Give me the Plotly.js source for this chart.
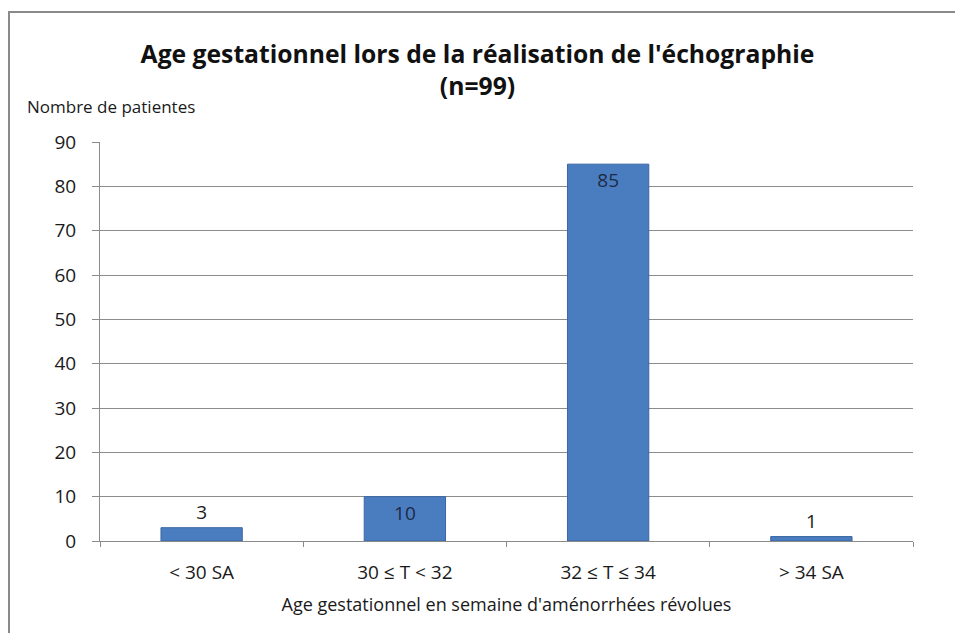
<!DOCTYPE html>
<html>
<head>
<meta charset="utf-8">
<script src="https://cdn.plot.ly/plotly-3.0.1.min.js"></script>
<style>
html,body{margin:0;padding:0;background:#fff;}
#frame{position:absolute;left:8px;top:11px;width:960px;height:640px;border-left:2px solid #8a8a8a;border-top:2px solid #8a8a8a;box-sizing:border-box;}
#chart{position:absolute;left:0;top:0;width:955px;height:633px;}
</style>
</head>
<body>
<div id="frame"></div>
<div id="chart"></div>
<script>
const categories = ['< 30 SA', '30 ≤ T < 32', '32 ≤ T ≤ 34', '> 34 SA'];
const values = [3, 10, 85, 1];
const yTicks = [0, 10, 20, 30, 40, 50, 60, 70, 80, 90];

const FONT = 'Open Sans, sans-serif';

const trace = {
  type: 'bar',
  x: categories,
  y: values,
  text: values.map(String),
  textposition: 'auto',
  insidetextanchor: 'end',
  textfont: {family: FONT, size: 19, color: '#1e2a44'},
  outsidetextfont: {family: FONT, size: 19, color: '#1a1a1a'},
  insidetextfont: {family: FONT, size: 19, color: '#1e2a44'},
  marker: {color: '#4a7dc0', line: {color: '#3a66a3', width: 1}},
  cliponaxis: false,
  hoverinfo: 'none'
};

const layout = {
  width: 955, height: 633,
  paper_bgcolor: 'rgba(0,0,0,0)',
  plot_bgcolor: '#fff',
  margin: {l: 100, r: 42, t: 142, b: 92},
  bargap: 0.6,
  showlegend: false,
  font: {family: FONT, color: '#1a1a1a'},
  title: {
    text: "<b>Age gestationnel lors de la réalisation de l'échographie<br>(n=99)</b>",
    font: {family: FONT, size: 24.7, color: '#111'},
    x: 0.5, xanchor: 'center', y: 0.90, yanchor: 'top'
  },
  xaxis: {
    type: 'category',
    tickfont: {family: FONT, size: 19, color: '#1a1a1a'},
    showline: true, linecolor: '#8a8a8a', linewidth: 1,
    ticks: 'outside', tickson: 'boundaries', ticklen: 5, tickcolor: '#8a8a8a',
    ticklabelstandoff: 14,
    showgrid: false,
    title: {text: "Age gestationnel en semaine d'aménorrhées révolues", font: {family: FONT, size: 18, color: '#1a1a1a'}, standoff: 14}
  },
  yaxis: {
    range: [0, 90],
    tickvals: yTicks,
    ticktext: yTicks.map(String),
    tickfont: {family: FONT, size: 19, color: '#1a1a1a'},
    showgrid: true, gridcolor: '#8c8c8c', gridwidth: 1,
    zeroline: true, zerolinecolor: '#8c8c8c',
    showline: true, linecolor: '#8c8c8c', linewidth: 1,
    ticks: 'outside', ticklen: 7, tickcolor: '#8c8c8c', ticklabelstandoff: 12
  },
  annotations: [{
    text: 'Nombre de patientes',
    xref: 'paper', yref: 'paper', x: -0.092, y: 1.088,
    xanchor: 'left', yanchor: 'middle', showarrow: false,
    font: {family: FONT, size: 17, color: '#1a1a1a'}
  }]
};

Plotly.newPlot('chart', [trace], layout, {displayModeBar: false, staticPlot: true});
</script>
</body>
</html>
